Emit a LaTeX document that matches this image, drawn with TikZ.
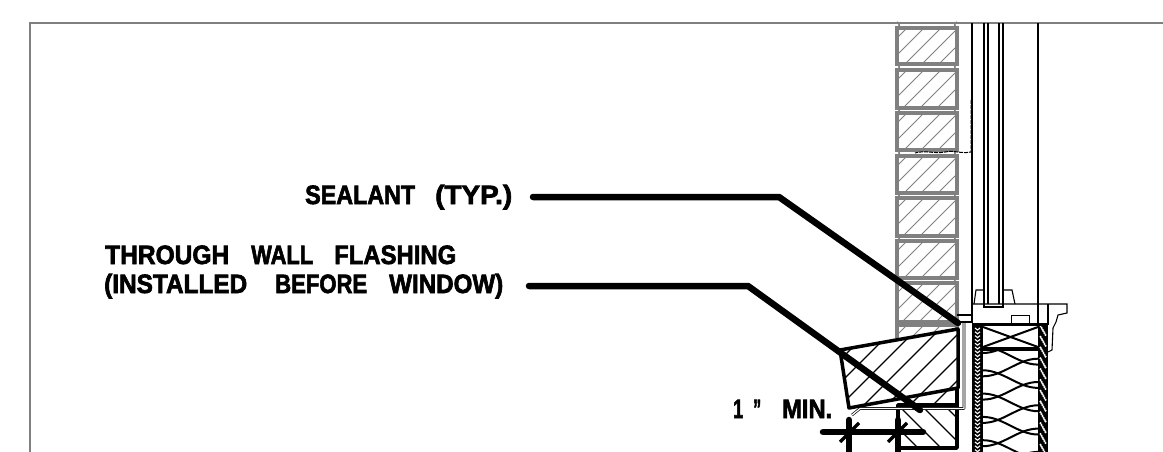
\documentclass[tikz,border=0pt]{standalone}
\usepackage{fontspec}
\usepackage{graphicx}
\setmainfont[BoldFeatures={FakeBold=2.5}]{Liberation Sans}
\newcommand{\fitw}[2]{\resizebox{#1pt}{\height}{\fontsize{26.5}{26.5}\selectfont\bfseries #2}}
\definecolor{brickgray}{HTML}{808080}
\tikzset{
  frameline/.style={draw=brickgray,line width=1.3},
  fine/.style={draw=black,line width=1.1},
  med/.style={draw=black,line width=2},
  heavy/.style={draw=black,line width=3.5,line join=round},
  leader/.style={draw=black,line width=6.5,line cap=round,line join=round},
  dimstroke/.style={draw=black,line width=6.5,line cap=round},
  brickline/.style={draw=brickgray,line width=3.4},
  brickhatch/.style={draw=brickgray,line width=0.9},
  label/.style={inner sep=0pt,anchor=base west}
}
\begin{document}
\begin{tikzpicture}[x=1pt,y=-1pt]
\useasboundingbox (0,0) rectangle (1163,452);
\fill[white] (0,0) rectangle (1163,452);
% frame
\draw[frameline] (30,452) -- (30,23) -- (1163,23);
% window verticals
\draw[draw=black,line width=2.6] (972,23) -- (972,323);
\foreach \x in {984,988,999,1003} \draw[fine] (\x,23) -- (\x,304);
\draw[fine] (1038,23) -- (1038,325);
% bricks
\foreach \t/\b in {28/64,70/108,113/150,156/193,198/236,241/278,283/322,325/345}{
  \begin{scope}
    \clip (897,\t) rectangle (957,\b);
    \foreach \k in {0,...,6}{
      \pgfmathsetmacro{\cc}{907+17*\k}
      \draw[brickhatch] ({\cc-70},{\t+70}) -- ({\cc},{\t});
    }
  \end{scope}
  \draw[brickline] (897,\t) rectangle (957,\b);
}
% mortar bumps
\foreach \y in {25,67,110,153,195,238,281,324}{
  \draw[draw=brickgray,line width=1.5] (897,\y-3) .. controls (900,\y-1) and (900,\y+1) .. (897,\y+3);
  \draw[draw=brickgray,line width=1.5] (957,\y-3) .. controls (954,\y-1) and (954,\y+1) .. (957,\y+3);
}
% dashed wavy line
\draw[draw=black,line width=1,dash pattern=on 4pt off 1pt] (971,100) -- (971,152) .. controls (960,154) and (955,150) .. (945,152) .. controls (935,154) and (925,150) .. (915,153);
% small box by the window
\draw[fine] (957,315) -- (972,315);
\draw[fine] (957,322) -- (972,322);
% window frame
\draw[fine] (974,304) -- (976,290) -- (984,290);
\draw[fine] (1003,290) -- (1012,290) -- (1015,304);
\draw[fine] (984,290) -- (984,307) -- (1003,307) -- (1003,290);
\draw[fine] (972,304) -- (1067,304) -- (1067,313) -- (1058,315) -- (1056,322) -- (1053,328) -- (1052,350) -- (1048,352);
\draw[draw=black,line width=2] (1048,304) -- (1048,325);
\draw[draw=black,line width=1] (1011,323) -- (1011,315) -- (1029,315) -- (1029,323);
% sheathing left
\fill[black] (972,325) rectangle (983,452);
\foreach \k in {0,...,32}{
  \draw[white,line width=1.1] (975,{328+3.8*\k}) -- (977.5,{330+3.8*\k}) -- (980,{328+3.8*\k});
}
% sheathing right
\fill[black] (1038,325) rectangle (1048,452);
\foreach \k in {0,...,70}{
  \pgfmathsetmacro{\px}{1040.5+mod(\k*37,6)}
  \fill[white] (\px,{326+1.8*\k}) circle (1.2);
}
% wood block
\draw[heavy] (972,324.5) -- (1047,324.5);
\draw[heavy] (983,349) -- (1038,349);
\draw[med] (983,327) -- (1038,347);
\draw[med] (983,347) -- (1038,327);
% insulation
\begin{scope}
\clip (983,350) rectangle (1038,452);
\foreach \k in {-1,...,4}{
  \pgfmathsetmacro{\yl}{350+23.3*\k}
  \draw[med] (983,{\yl-3}) .. controls (1003,{\yl-3}) and (1018,{\yl+14.6}) .. (1038,{\yl+14.6});
  \draw[med] (983,{\yl+3+23.3}) .. controls (1003,{\yl+3+23.3}) and (1018,{\yl+8.7}) .. (1038,{\yl+8.7});
}
\end{scope}
% lower brick
\begin{scope}
  \clip (898,406) rectangle (957,448);
  \foreach \c in {470,493,...,562}
    \draw[fine] ({\c+390},390) -- ({\c+470},470);
\end{scope}
\draw[heavy] (898,452) -- (898,405) -- (957,405) -- (957,448) -- (898,448);
\draw[heavy] (957,388) -- (957,405);
% hatch beneath the sill
\begin{scope}
  \clip (898,388) rectangle (957,405);
  \foreach \c in {1315,1338,...,1361}
    \draw[fine] ({\c-405},405) -- ({\c-380},380);
\end{scope}
% sill
\fill[white] (840,350) -- (958,329) -- (958,388) -- (849,408) -- cycle;
\begin{scope}
  \clip (840,350) -- (958,329) -- (958,388) -- (849,408) -- cycle;
  \foreach \c in {1200,1223,...,1361}
    \draw[fine] ({\c-410},410) -- ({\c-320},320);
\end{scope}
\draw[heavy] (840,350) -- (958,329) -- (958,388) -- (849,408) -- cycle;
% flashing
\draw[draw=black,line width=2.6,line join=round] (964,323) -- (964,408.5) -- (860,408.5) -- (852,415);
\draw[draw=white,line width=1.2,line join=round] (964,323) -- (964,408.5) -- (860,408.5) -- (852,415);
% labels
\node[label] (sealant) at (305,204) {\fitw{110}{SEALANT}\hspace{20pt}\fitw{77}{(TYP.)}};
\node[label] (flash1) at (105,264) {\fitw{124}{THROUGH}\hspace{22pt}\fitw{62}{WALL}\hspace{21pt}\fitw{122}{FLASHING}};
\node[label] (flash2) at (104,293) {\fitw{143}{(INSTALLED}\hspace{28pt}\fitw{92}{BEFORE}\hspace{22pt}\fitw{114}{WINDOW)}};
\node[label] (minlabel) at (733,418) {\fitw{10}{1}\hspace{10pt}\fitw{8}{”}\hspace{21pt}\fitw{50}{MIN.}};
% leaders
\coordinate (s0) at (533,197);
\coordinate (s1) at (779,197);
\coordinate (s2) at (958,323);
\coordinate (f0) at (529,286);
\coordinate (f1) at (748,286);
\coordinate (f2) at (920,410);
\draw[leader] (s0) -- (s1) -- (s2);
\draw[leader] (f0) -- (f1) -- (f2);
% dimension
\coordinate (d0) at (823,432);
\coordinate (d1) at (923,432);
\coordinate (t1) at (849,420);
\coordinate (t2) at (898,420);
\draw[dimstroke] (d0) -- (d1);
\draw[dimstroke] (t1) -- (849,452);
\draw[dimstroke] (t2) -- (898,452);
\draw[draw=black,line width=3.4] (840,442) -- (859,423);
\draw[draw=black,line width=3.4] (888,442) -- (907,423);
\end{tikzpicture}
\end{document}
